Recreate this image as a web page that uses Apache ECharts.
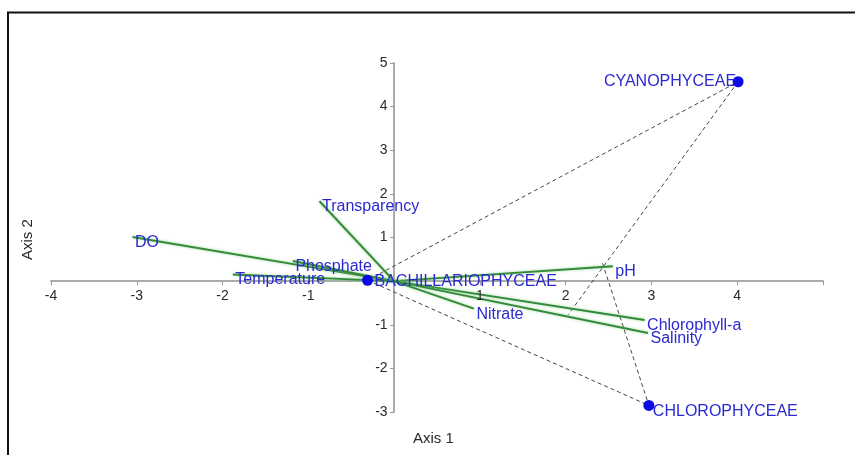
<!DOCTYPE html>
<html>
<head>
<meta charset="utf-8">
<script src="https://cdn.jsdelivr.net/npm/echarts@6/dist/echarts.min.js"></script>
<style>
  html, body { margin: 0; padding: 0; background: #fff; }
  #chart { width: 855px; height: 455px; }
</style>
</head>
<body>
<div id="chart"></div>
<script>
// Ordination scores (axis 1, axis 2)
const speciesNames = ['CYANOPHYCEAE', 'CHLOROPHYCEAE', 'BACHILLARIOPHYCEAE'];
const speciesAxis1 = [4.01, 2.97, -0.31];
const speciesAxis2 = [4.57, -2.85, 0.02];

// Environmental variable arrows (tips; arrows start at the origin)
const envNames = ['DO', 'Transparency', 'Phosphate', 'Temperature', 'pH', 'Chlorophyll-a', 'Salinity', 'Nitrate'];
const envAxis1 = [-3.05, -0.87, -1.18, -1.88, 2.55, 2.92, 2.96, 0.93];
const envAxis2 = [1.01, 1.83, 0.46, 0.15, 0.34, -0.89, -1.19, -0.63];

// Dashed connector segments: [from, to]
const connectorFrom = [[-0.31, 0.02], [-0.31, 0.02], [4.01, 4.57], [2.43, 0.41]];
const connectorTo = [[4.01, 4.57], [2.97, -2.85], [2.03, -0.77], [2.97, -2.85]];

// Axis tick labels (drawn along the axes that cross at the origin)
const xTicks = [-4, -3, -2, -1, 1, 2, 3, 4];
const yTicks = [-3, -2, -1, 1, 2, 3, 4, 5];

const FONT = "'Liberation Sans', Arial, sans-serif";
const LABEL_BLUE = '#2a2ad0';
const TICK_GREY = '#2a2a2a';

// label placement for each species point
const speciesLabel = [
  { position: [3.5, 5.5], align: 'right', verticalAlign: 'middle' },
  { position: [9.5, 3.5], align: 'left', verticalAlign: 'top' },
  { position: [12.5, 6.5], align: 'left', verticalAlign: 'middle' }
];

const chart = echarts.init(document.getElementById('chart'), null, { renderer: 'canvas' });

const axisCommon = {
  type: 'value',
  interval: 1,
  splitLine: { show: false },
  axisLine: { onZero: true, lineStyle: { color: '#ababab', width: 2 } },
  axisTick: { show: true, inside: false, length: 4, lineStyle: { color: '#999', width: 1 } },
  axisLabel: { show: false }
};

const hiddenPoint = { color: 'rgba(0,0,0,0)', opacity: 1 };

chart.setOption({
  animation: false,
  grid: { left: 51, right: 32, top: 63, bottom: 43, containLabel: false },
  xAxis: Object.assign({}, axisCommon, { min: -4, max: 5 }),
  yAxis: Object.assign({}, axisCommon, { min: -3, max: 5 }),
  graphic: [
    {
      type: 'rect', silent: true, z: 100,
      shape: { x: 8, y: 12.5, width: 900, height: 500 },
      style: { fill: 'none', stroke: '#111', lineWidth: 2 }
    },
    {
      type: 'text', left: 413, top: 431, silent: true,
      style: { text: 'Axis 1', fill: TICK_GREY, font: "15px " + FONT }
    },
    {
      type: 'text', x: 20, y: 260, rotation: Math.PI / 2, silent: true,
      style: { text: 'Axis 2', fill: TICK_GREY, font: "15px " + FONT, align: 'left', verticalAlign: 'top' }
    }
  ],
  series: [
    {
      // x-axis tick labels at y = 0
      type: 'scatter', silent: true, z: 4, symbolSize: 1, itemStyle: hiddenPoint,
      label: {
        show: true, position: [0.5, 9], align: 'center', verticalAlign: 'top', opacity: 1,
        color: TICK_GREY, fontSize: 14, fontFamily: FONT, formatter: p => String(p.value[0])
      },
      data: xTicks.map(v => [v, 0])
    },
    {
      // y-axis tick labels at x = 0
      type: 'scatter', silent: true, z: 4, symbolSize: 1, itemStyle: hiddenPoint,
      label: {
        show: true, position: [-6, 0.5], align: 'right', verticalAlign: 'middle', opacity: 1,
        color: TICK_GREY, fontSize: 14, fontFamily: FONT, formatter: p => String(p.value[1])
      },
      data: yTicks.map(v => [0, v])
    },
    {
      type: 'lines',
      coordinateSystem: 'cartesian2d',
      silent: true,
      z: 2,
      lineStyle: { color: '#444', width: 1, type: [4, 3], opacity: 1 },
      data: connectorFrom.map((p, i) => ({ coords: [p, connectorTo[i]] }))
    },
    {
      type: 'lines',
      coordinateSystem: 'cartesian2d',
      silent: true,
      z: 3,
      lineStyle: {
        color: '#35893a', width: 2, opacity: 1,
        shadowColor: 'rgba(110, 200, 110, 0.7)', shadowBlur: 3
      },
      data: envNames.map((n, i) => ({ coords: [[0, 0], [envAxis1[i], envAxis2[i]]] }))
    },
    {
      type: 'scatter',
      silent: true,
      z: 5,
      symbolSize: 1,
      itemStyle: hiddenPoint,
      label: {
        show: true,
        position: [3, -2],
        align: 'left',
        verticalAlign: 'top',
        opacity: 1,
        color: LABEL_BLUE,
        fontSize: 16,
        fontFamily: FONT,
        formatter: p => p.name
      },
      data: envNames.map((n, i) => ({ name: n, value: [envAxis1[i], envAxis2[i]] }))
    },
    {
      type: 'scatter',
      silent: true,
      z: 6,
      symbol: 'circle',
      symbolSize: 11,
      itemStyle: { color: '#0a0ae6', opacity: 1 },
      label: {
        show: true,
        opacity: 1,
        color: LABEL_BLUE,
        fontSize: 16,
        fontFamily: FONT,
        formatter: p => p.name
      },
      data: speciesNames.map((n, i) => ({
        name: n,
        value: [speciesAxis1[i], speciesAxis2[i]],
        label: speciesLabel[i]
      }))
    }
  ]
});
</script>
</body>
</html>
